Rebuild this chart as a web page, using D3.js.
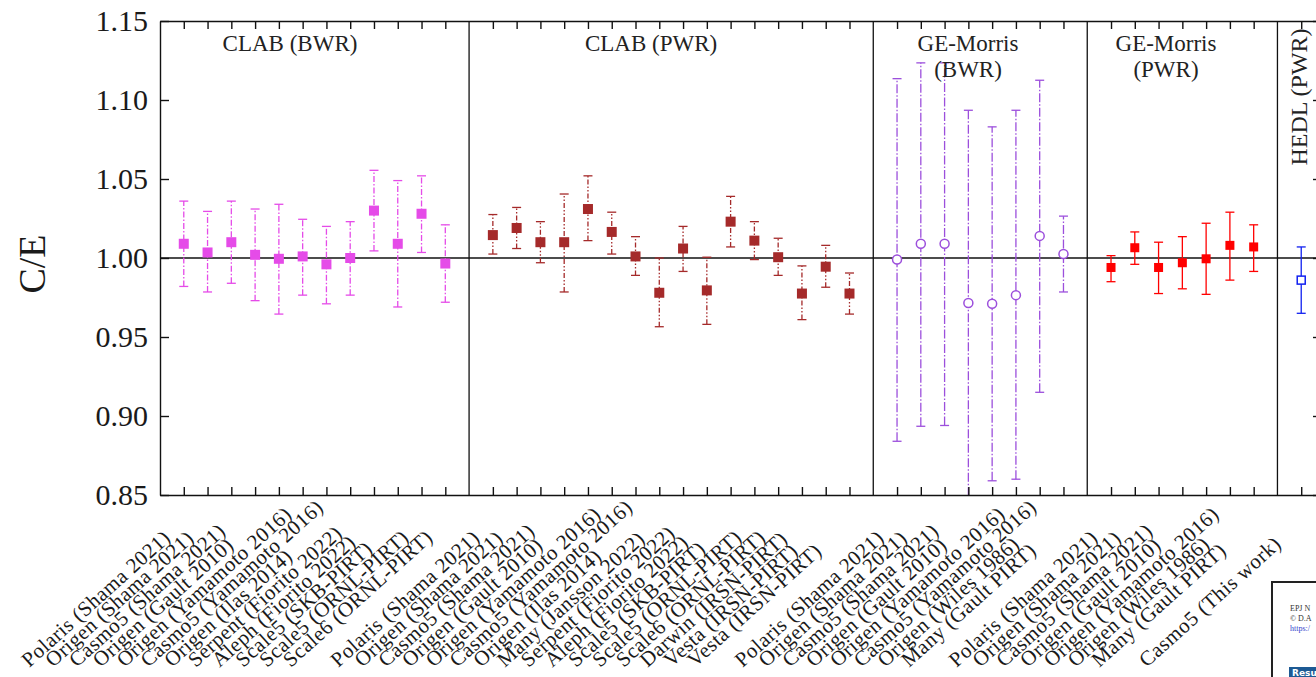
<!DOCTYPE html>
<html>
<head>
<meta charset="utf-8">
<script src="https://cdn.jsdelivr.net/npm/d3@7"></script>
<style>
body { margin: 0; background: #fff; }
svg { font-family: "Liberation Serif", "DejaVu Serif", serif; }
</style>
</head>
<body>
<svg id="chart" width="1316" height="677"></svg>
<script>

// ---- data (C/E with lower / upper bound of the error bar) ----
var clabBwrNames = ["Polaris (Shama 2021)", "Origen (Shama 2021)", "Casmo5 (Shama 2021)", "Origen (Gault 2010)",
  "Origen (Yamamoto 2016)", "Casmo5 (Yamamoto 2016)", "Origen (Ilas 2014)", "Serpent (Fiorito 2022)",
  "Aleph (Fiorito 2022)", "Scale5 (SKB-PIRT)", "Scale5 (ORNL-PIRT)", "Scale6 (ORNL-PIRT)"];
var clabBwrCE  = [1.009, 1.0035, 1.010, 1.002, 0.9995, 1.001, 0.996, 1.000, 1.030, 1.009, 1.028, 0.9965];
var clabBwrLow = [0.982, 0.9785, 0.984, 0.973, 0.9645, 0.9765, 0.971, 0.9765, 1.0045, 0.969, 1.0035, 0.972];
var clabBwrHigh = [1.036, 1.0295, 1.036, 1.031, 1.034, 1.0245, 1.020, 1.023, 1.0555, 1.049, 1.052, 1.021];

var clabPwrNames = ["Polaris (Shama 2021)", "Origen (Shama 2021)", "Casmo5 (Shama 2021)", "Origen (Gault 2010)",
  "Origen (Yamamoto 2016)", "Casmo5 (Yamamoto 2016)", "Origen (Ilas 2014)", "Many (Jansson 2022)",
  "Serpent (Fiorito 2022)", "Aleph (Fiorito 2022)", "Scale5 (SKB-PIRT)", "Scale5 (ORNL-PIRT)",
  "Scale6 (ORNL-PIRT)", "Darwin (IRSN-PIRT)", "Vesta (IRSN-PIRT)", "Vesta (IRSN-PIRT)"];
var clabPwrCE  = [1.0145, 1.019, 1.010, 1.010, 1.031, 1.0165, 1.001, 0.978, 1.006, 0.9795, 1.023, 1.011, 1.0005, 0.9775, 0.9945, 0.9775];
var clabPwrLow = [1.0025, 1.006, 0.997, 0.9785, 1.011, 1.0025, 0.989, 0.9565, 0.9915, 0.958, 1.007, 0.999, 0.989, 0.961, 0.9815, 0.9645];
var clabPwrHigh = [1.0275, 1.032, 1.023, 1.0405, 1.052, 1.029, 1.0135, 1.000, 1.020, 1.0005, 1.039, 1.023, 1.0125, 0.995, 1.008, 0.9905];

var geBwrNames = ["Polaris (Shama 2021)", "Origen (Shama 2021)", "Casmo5 (Shama 2021)", "Origen (Gault 2010)",
  "Origen (Yamamoto 2016)", "Casmo5 (Yamamoto 2016)", "Origen (Wiles 1986)", "Many (Gault PIRT)"];
var geBwrCE  = [0.999, 1.009, 1.009, 0.9715, 0.971, 0.9765, 1.014, 1.0025];
var geBwrLow = [0.884, 0.8935, 0.894, 0.84, 0.859, 0.860, 0.915, 0.9785];
var geBwrHigh = [1.1135, 1.1235, 1.1235, 1.0935, 1.083, 1.0935, 1.1125, 1.0265];

var gePwrNames = ["Polaris (Shama 2021)", "Origen (Shama 2021)", "Casmo5 (Shama 2021)", "Origen (Gault 2010)",
  "Origen (Yamamoto 2016)", "Origen (Wiles 1986)", "Many (Gault PIRT)"];
var gePwrCE  = [0.994, 1.0065, 0.994, 0.997, 0.9995, 1.008, 1.007];
var gePwrLow = [0.985, 0.996, 0.9775, 0.9805, 0.977, 0.986, 0.9915];
var gePwrHigh = [1.0015, 1.0165, 1.010, 1.0135, 1.022, 1.029, 1.021];

var hedlNames = ["Casmo5 (This work)"];
var hedlCE  = [0.986];
var hedlLow = [0.965];
var hedlHigh = [1.007];

var yTicks = [0.85, 0.90, 0.95, 1.00, 1.05, 1.10, 1.15];

var series = [
  {names: clabBwrNames, ce: clabBwrCE, lo: clabBwrLow, hi: clabBwrHigh, color: "#e54be8", dash: "6,2,1.5,2", marker: "square", open: false, size: 10},
  {names: clabPwrNames, ce: clabPwrCE, lo: clabPwrLow, hi: clabPwrHigh, color: "#a52a2a", dash: "5,2,1.5,2,1.5,2", marker: "square", open: false, size: 10},
  {names: geBwrNames, ce: geBwrCE, lo: geBwrLow, hi: geBwrHigh, color: "#9c4fdc", dash: "9,2,1.5,2", marker: "circle", open: true, size: 9},
  {names: gePwrNames, ce: gePwrCE, lo: gePwrLow, hi: gePwrHigh, color: "#ff0000", dash: null, marker: "square", open: false, size: 9},
  {names: hedlNames, ce: hedlCE, lo: hedlLow, hi: hedlHigh, color: "#1020f0", dash: null, marker: "square", open: true, size: 8}
];

// x index: categories one after another, a free slot for each separator
var allIdx = [], allNames = [], dividers = [];
var idx = 0;
series.forEach(function (s, k) {
  s.points = s.names.map(function (n, i) {
    allIdx.push(idx); allNames[idx] = n;
    var p = {i: idx, ce: s.ce[i], lo: s.lo[i], hi: s.hi[i]};
    idx++;
    return p;
  });
  if (k < series.length - 1) { dividers.push(idx); idx++; }
});

var svg = d3.select('#chart');

var x = d3.scaleLinear().domain([-1, 48]).range([160, 1325]);
var y = d3.scaleLinear().domain([0.85, 1.15]).range([495, 21]);

svg.append("defs").append("clipPath").attr("id", "plotclip")
  .append("rect")
  .attr("x", x(-1)).attr("y", y(1.15))
  .attr("width", x(48) - x(-1)).attr("height", y(0.85) - y(1.15));

var plot = svg.append("g").attr("clip-path", "url(#plotclip)");

// reference line C/E = 1
plot.append("line")
  .attr("x1", x(-1)).attr("x2", x(48))
  .attr("y1", y(1)).attr("y2", y(1))
  .attr("stroke", "#111").attr("stroke-width", 1.4);

// separators
plot.selectAll(".sep")
  .data(dividers)
  .enter().append("line")
  .attr("class", "sep")
  .attr("x1", function (d) { return x(d); }).attr("x2", function (d) { return x(d); })
  .attr("y1", y(1.15)).attr("y2", y(0.85))
  .attr("stroke", "#111").attr("stroke-width", 1.3);

// error bars + markers
series.forEach(function (s) {
  var g = plot.append("g");
  var bars = g.selectAll(".eb").data(s.points).enter().append("g");
  bars.append("line")
    .attr("x1", function (d) { return x(d.i); }).attr("x2", function (d) { return x(d.i); })
    .attr("y1", function (d) { return y(d.lo); }).attr("y2", function (d) { return y(d.hi); })
    .attr("stroke", s.color).attr("stroke-width", 1.3)
    .attr("stroke-dasharray", s.dash);
  ["lo", "hi"].forEach(function (key) {
    bars.append("line")
      .attr("x1", function (d) { return x(d.i) - 4.5; }).attr("x2", function (d) { return x(d.i) + 4.5; })
      .attr("y1", function (d) { return y(d[key]); }).attr("y2", function (d) { return y(d[key]); })
      .attr("stroke", s.color).attr("stroke-width", 1.3);
  });

  if (s.marker == "circle") {
    g.selectAll(".mk").data(s.points).enter().append("circle")
      .attr("cx", function (d) { return x(d.i); })
      .attr("cy", function (d) { return y(d.ce); })
      .attr("r", s.size / 2)
      .attr("fill", "#fff").attr("stroke", s.color).attr("stroke-width", 1.5);
  } else {
    g.selectAll(".mk").data(s.points).enter().append("rect")
      .attr("x", function (d) { return x(d.i) - s.size / 2; })
      .attr("y", function (d) { return y(d.ce) - s.size / 2; })
      .attr("width", s.size).attr("height", s.size)
      .attr("fill", s.open ? "#fff" : s.color)
      .attr("stroke", s.color).attr("stroke-width", s.open ? 1.5 : 0);
  }
});

// axes
var xBottom = svg.append("g")
  .attr("transform", "translate(0," + y(0.85) + ")")
  .call(d3.axisBottom(x).tickValues(allIdx).tickSize(-8).tickSizeOuter(0)
    .tickFormat(function (i) { return allNames[i]; }));
xBottom.selectAll("text")
  .attr("x", 0).attr("y", 0).attr("dy", null)
  .attr("text-anchor", "start")
  .attr("transform", "translate(-155,173) rotate(-42)")
  .attr("font-size", 21).attr("letter-spacing", 0.5)
  .attr("fill", "#1a1a1a");

svg.append("g")
  .attr("transform", "translate(0," + y(1.15) + ")")
  .call(d3.axisTop(x).tickValues(allIdx).tickSize(-8).tickSizeOuter(0).tickFormat(""));

var yLeft = svg.append("g")
  .attr("transform", "translate(" + x(-1) + ",0)")
  .call(d3.axisLeft(y).tickValues(yTicks).tickSize(-9).tickSizeOuter(0).tickPadding(12)
    .tickFormat(d3.format(".2f")));
yLeft.selectAll("text").attr("font-size", 30).attr("fill", "#1a1a1a");

svg.append("g")
  .attr("transform", "translate(" + x(48) + ",0)")
  .call(d3.axisRight(y).tickValues(yTicks).tickSize(-12).tickSizeOuter(0).tickFormat(""));

svg.selectAll(".domain, .tick line").attr("stroke", "#111").attr("stroke-width", 1.4);
svg.selectAll(".tick text").attr("font-family", "Liberation Serif");

// panel titles
var titles = [
  {lines: ["CLAB (BWR)"], cx: 290},
  {lines: ["CLAB (PWR)"], cx: 651},
  {lines: ["GE-Morris", "(BWR)"], cx: 968},
  {lines: ["GE-Morris", "(PWR)"], cx: 1166}
];
titles.forEach(function (t) {
  t.lines.forEach(function (l, k) {
    svg.append("text")
      .attr("x", t.cx).attr("y", 51 + k * 26)
      .attr("text-anchor", "middle")
      .attr("font-size", 23).attr("fill", "#222")
      .text(l);
  });
});
svg.append("text")
  .attr("transform", "translate(1307,97) rotate(-90)")
  .attr("text-anchor", "middle")
  .attr("font-size", 24).attr("fill", "#222")
  .text("HEDL (PWR)");

// y title
svg.append("text")
  .attr("transform", "translate(45,264) rotate(-90)")
  .attr("text-anchor", "middle")
  .attr("font-size", 38).attr("fill", "#1a1a1a")
  .text("C/E");

// journal info box, bottom right
var box = svg.append("g");
box.append("rect").attr("x", 1272).attr("y", 582).attr("width", 60).attr("height", 110)
  .attr("fill", "#fff").attr("stroke", "#222").attr("stroke-width", 2);
box.append("text").attr("x", 1290).attr("y", 611).attr("font-size", 8).attr("fill", "#333").text("EPJ N");
box.append("text").attr("x", 1290).attr("y", 621).attr("font-size", 8).attr("fill", "#333").text("© D.A");
box.append("text").attr("x", 1290).attr("y", 631).attr("font-size", 8).attr("fill", "#3344cc").text("https:/");
box.append("rect").attr("x", 1289).attr("y", 667).attr("width", 40).attr("height", 12).attr("fill", "#1d5a94");
box.append("text").attr("x", 1292).attr("y", 676).attr("font-size", 9).attr("font-weight", "bold")
  .attr("fill", "#fff").attr("font-family", "DejaVu Sans").text("Resu");

</script>
</body>
</html>
